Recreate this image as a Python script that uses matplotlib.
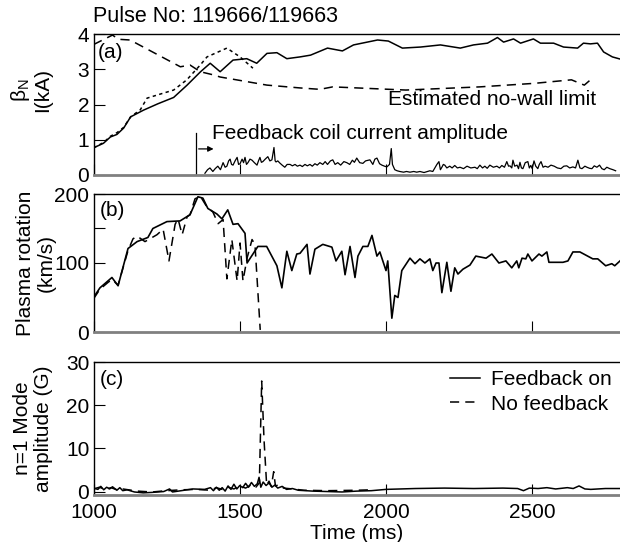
import matplotlib
matplotlib.use("Agg")
import matplotlib.pyplot as plt

plt.rcParams['font.family'] = ['Liberation Sans', 'DejaVu Sans']
plt.rcParams['mathtext.fontset'] = 'custom'
plt.rcParams['mathtext.rm'] = 'Liberation Sans'
plt.rcParams['font.size'] = 15

# (a) beta_N with feedback, beta_N without feedback, no-wall limit, coil current
beta_on_t = [1000, 1034, 1058, 1080, 1103, 1127, 1171, 1220, 1274, 1320, 1366, 1399, 1433, 1477, 1524,
             1558, 1593, 1627, 1661, 1706, 1742, 1800, 1851, 1889, 1971, 2008, 2056, 2118, 2186, 2254,
             2299, 2347, 2381, 2402, 2436, 2460, 2504, 2528, 2573, 2607, 2655, 2675, 2699, 2723, 2744,
             2774, 2800]
beta_on = [0.77, 0.9, 1.08, 1.15, 1.33, 1.65, 1.84, 2.02, 2.2, 2.55, 2.93, 3.17, 2.93, 3.26, 3.3,
           3.17, 3.45, 3.47, 3.3, 3.35, 3.4, 3.6, 3.52, 3.69, 3.83, 3.8, 3.6, 3.63, 3.69, 3.6,
           3.69, 3.74, 3.9, 3.77, 3.86, 3.74, 3.86, 3.74, 3.74, 3.63, 3.6, 3.74, 3.72, 3.74, 3.49,
           3.35, 3.29]

beta_off_t = [1000, 1034, 1058, 1080, 1103, 1127, 1160, 1183, 1230, 1274, 1319, 1365, 1388, 1456, 1501, 1545]
beta_off = [0.77, 0.92, 1.1, 1.2, 1.35, 1.65, 1.85, 2.18, 2.3, 2.41, 2.7, 3.12, 3.35, 3.6, 3.35, 3.03]

nowall_t = [1000, 1065, 1085, 1125, 1297, 1330, 1365, 1410, 1433, 1593, 1706, 1774, 1818, 2068,
            2321, 2507, 2634, 2678, 2706]
nowall = [3.7, 3.97, 3.85, 3.83, 3.07, 3.12, 2.93, 2.84, 2.78, 2.55, 2.47, 2.43, 2.5, 2.41,
          2.5, 2.6, 2.7, 2.55, 2.75]

coil_t = [1381, 1390, 1398, 1408, 1416, 1425, 1434, 1443, 1450, 1456, 1462, 1467, 1472, 1477, 1484,
          1491, 1496, 1501, 1508, 1513, 1518, 1523, 1528, 1535, 1542, 1550, 1559, 1564, 1569, 1574,
          1579, 1587, 1596, 1603, 1610, 1617, 1621, 1624, 1630, 1637, 1645, 1654, 1662, 1672, 1680,
          1689, 1697, 1706, 1714, 1723, 1731, 1740, 1748, 1757, 1765, 1774, 1784, 1792, 1800, 1810,
          1818, 1826, 1835, 1845, 1856, 1866, 1876, 1885, 1892, 1900, 1910, 1921, 1930, 1945, 1955,
          1962, 1969, 1978, 1986, 1995, 2003, 2012, 2018, 2022, 2030, 2038, 2047, 2060, 2070, 2082,
          2095, 2105, 2116, 2130, 2142, 2150, 2160, 2167, 2174, 2181, 2186, 2191, 2196, 2201, 2208,
          2218, 2226, 2235, 2244, 2253, 2265, 2277, 2290, 2304, 2312, 2321, 2330, 2338, 2346, 2355,
          2367, 2379, 2388, 2396, 2405, 2413, 2419, 2424, 2430, 2434, 2440, 2448, 2453, 2458, 2463,
          2468, 2476, 2485, 2490, 2495, 2500, 2506, 2512, 2519, 2524, 2530, 2537, 2544, 2554, 2564,
          2575, 2586, 2598, 2608, 2618, 2628, 2639, 2648, 2656, 2663, 2670, 2680, 2687, 2696, 2704,
          2712, 2721, 2730, 2738, 2746, 2755, 2765, 2776, 2785]
coil = [0.05, 0.15, 0.2, 0.1, 0.18, 0.25, 0.15, 0.35, 0.22, 0.25, 0.4, 0.45, 0.3, 0.28, 0.4,
        0.5, 0.3, 0.32, 0.45, 0.35, 0.5, 0.3, 0.35, 0.45, 0.42, 0.35, 0.28, 0.4, 0.5, 0.36,
        0.38, 0.45, 0.52, 0.4, 0.43, 0.78, 0.4, 0.37, 0.4, 0.34, 0.28, 0.22, 0.3, 0.3, 0.26,
        0.3, 0.25, 0.28, 0.24, 0.3, 0.26, 0.3, 0.25, 0.32, 0.28, 0.35, 0.3, 0.38, 0.3, 0.4,
        0.43, 0.3, 0.35, 0.28, 0.38, 0.35, 0.3, 0.42, 0.36, 0.48, 0.35, 0.33, 0.4, 0.43, 0.3,
        0.45, 0.48, 0.32, 0.28, 0.25, 0.23, 0.3, 0.75, 0.3, 0.15, 0.12, 0.1, 0.08, 0.1, 0.08,
        0.1, 0.08, 0.1, 0.07, 0.1, 0.12, 0.1, 0.2, 0.3, 0.38, 0.15, 0.22, 0.3, 0.28, 0.2,
        0.25, 0.2, 0.27, 0.2, 0.22, 0.18, 0.25, 0.2, 0.22, 0.18, 0.28, 0.2, 0.25, 0.19, 0.28,
        0.22, 0.25, 0.2, 0.27, 0.22, 0.38, 0.25, 0.26, 0.2, 0.42, 0.25, 0.28, 0.18, 0.36, 0.2,
        0.18, 0.35, 0.38, 0.2, 0.27, 0.18, 0.4, 0.25, 0.18, 0.3, 0.38, 0.22, 0.25, 0.22, 0.28,
        0.25, 0.2, 0.18, 0.25, 0.26, 0.2, 0.23, 0.2, 0.42, 0.2, 0.18, 0.25, 0.22, 0.19, 0.18,
        0.26, 0.22, 0.28, 0.18, 0.15, 0.22, 0.18, 0.15, 0.12]

# (b) plasma rotation
rot_on_t = [1000, 1022, 1063, 1084, 1118, 1149, 1186, 1203, 1251, 1296, 1330, 1357, 1374, 1391, 1422,
            1439, 1459, 1477, 1494, 1518, 1525, 1562, 1592, 1627, 1644, 1661, 1678, 1695, 1706, 1730,
            1740, 1757, 1784, 1815, 1829, 1849, 1860, 1877, 1894, 1904, 1921, 1938, 1952, 1969, 1979,
            2000, 2006, 2020, 2030, 2041, 2054, 2082, 2099, 2116, 2133, 2150, 2160, 2171, 2181, 2191,
            2208, 2222, 2235, 2246, 2263, 2287, 2307, 2342, 2362, 2386, 2410, 2430, 2447, 2454, 2465,
            2478, 2485, 2499, 2523, 2533, 2550, 2557, 2605, 2622, 2639, 2663, 2707, 2724, 2751, 2772,
            2782, 2800]
rot_on = [50, 64, 79, 67, 121, 131, 137, 150, 160, 161, 170, 196, 194, 179, 171,
          164, 177, 156, 157, 143, 100, 124, 124, 96, 64, 117, 89, 113, 114, 127,
          84, 120, 127, 123, 103, 117, 83, 124, 79, 110, 124, 124, 140, 110, 116,
          89, 103, 20, 53, 50, 89, 107, 99, 106, 100, 106, 89, 100, 100, 57,
          101, 59, 93, 84, 91, 97, 110, 107, 113, 100, 103, 93, 103, 93, 107,
          106, 113, 103, 113, 110, 116, 101, 101, 103, 116, 116, 106, 106, 96, 99,
          96, 103]

rot_off_t = [1000, 1022, 1050, 1063, 1084, 1118, 1135, 1149, 1176, 1217, 1238, 1258, 1279, 1289, 1303,
             1320, 1330, 1347, 1365, 1388, 1408, 1426, 1443, 1456, 1473, 1491, 1501, 1511, 1525, 1542,
             1552, 1570]
rot_off = [48, 62, 72, 76, 68, 118, 135, 139, 131, 141, 149, 103, 156, 164, 141,
           167, 170, 193, 197, 181, 174, 157, 163, 77, 134, 74, 129, 74, 107, 134,
           127, 3]

# (c) n=1 mode amplitude
mode_on_t = [1000, 1015, 1025, 1035, 1045, 1055, 1065, 1080, 1090, 1100, 1115, 1140, 1170, 1200, 1240,
             1260, 1270, 1300, 1340, 1380, 1400, 1410, 1420, 1430, 1440, 1450, 1460, 1470, 1480, 1490,
             1500, 1510, 1520, 1530, 1540, 1550, 1560, 1566, 1572, 1580, 1590, 1600, 1610, 1620, 1630,
             1645, 1660, 1680, 1700, 1750, 1800, 1850, 1900, 1950, 2000, 2100, 2200, 2300, 2400, 2450,
             2470, 2490, 2520, 2550, 2580, 2620, 2640, 2660, 2680, 2700, 2750, 2800]
mode_on = [0.8, 0.5, 1.2, 0.4, 1.0, 0.6, 1.1, 0.3, 0.9, 0.2, 0.4, -0.1, -0.3, -0.2, 0.0,
           0.6, -0.1, 0.2, 0.6, 0.5, 0.9, 0.2, 1.0, 0.3, 0.9, 0.1, 1.3, 0.5, 1.7, 0.6,
           1.4, 0.9, 1.9, 1.0, 2.1, 1.2, 1.8, 3.3, 1.0, 2.2, 1.4, 2.0, 1.0, 1.5, 0.8,
           1.2, 0.5, 0.7, 0.3, 0.1, 0.0, -0.1, 0.1, 0.2, 0.5, 0.7, 0.8, 0.7, 0.8, 0.7,
           0.2, 0.8, 0.7, 0.9, 0.6, 0.9, 0.7, 1.3, 0.6, 0.5, 0.7, 0.7]

mode_off_t = [1000, 1020, 1040, 1060, 1080, 1100, 1150, 1200, 1250, 1300, 1350, 1400, 1420, 1440, 1460,
              1480, 1500, 1520, 1540, 1555, 1567, 1575, 1583, 1592, 1600, 1608, 1616, 1622, 1635, 1650,
              1680, 1720, 1800, 1900, 1950]
mode_off = [0.6, 1.0, 0.5, 0.9, 0.4, 0.6, 0.1, -0.1, 0.2, 0.4, 0.5, 0.3, 0.9, 0.5, 1.0,
            0.6, 1.3, 0.8, 1.6, 1.0, 2.0, 25.6, 12.0, 1.5, 2.4, 1.2, 4.6, 1.3, 1.6, 0.8,
            0.6, 0.3, 0.2, 0.3, 0.4]

W, H = 620, 542
fig = plt.figure(figsize=(W / 100, H / 100), dpi=100)

def px_axes(top, bottom, left=93.5, right=620):
    return fig.add_axes([left / W, 1 - bottom / H, (right - left) / W, (bottom - top) / H])

ax1 = px_axes(34, 175)
ax2 = px_axes(194, 332)
ax3 = px_axes(362, 495)

dash = (6, 4)
for ax in (ax1, ax2, ax3):
    ax.set_xlim(1000, 2800)
    ax.spines['right'].set_visible(False)
    ax.spines['top'].set_linewidth(1.0)
    ax.spines['left'].set_linewidth(1.0)
    ax.spines['bottom'].set_linewidth(2.0)
    ax.spines['bottom'].set_color('#808080')
    ax.tick_params(axis='y', direction='in', length=8, width=0.8, pad=3)
    ax.tick_params(axis='x', direction='in', length=8, width=0.8, pad=6)
    ax.set_xticks([1000, 1500, 2000, 2500])

# (a)
ax1.plot(beta_on_t, beta_on, color='black', lw=1.1)
ax1.plot(beta_off_t, beta_off, color='black', lw=1.1, dashes=(2.2, 2.2))
ax1.plot(nowall_t, nowall, color='black', lw=1.1, dashes=dash)
ax1.plot(coil_t, coil, color='black', lw=0.9)
ax1.set_ylim(0, 4)
ax1.set_yticks([0, 1, 2, 3, 4])
ax1.set_xticklabels([])
ax1.plot([1350, 1350], [0, 1.2], color='black', lw=0.9)
ax1.annotate('', xy=(1420, 0.74), xytext=(1350, 0.74),
             arrowprops=dict(arrowstyle='-|>', color='black', lw=0.9, mutation_scale=8))
ax1.text(1405, 1.19, 'Feedback coil current amplitude', va='center', ha='left')
ax1.text(2006, 2.13, 'Estimated no-wall limit', va='center', ha='left')
ax1.text(0.009, 0.87, '(a)', transform=ax1.transAxes, va='center', ha='left')
ax1.set_ylabel('β$_\\mathrm{N}$\nI(kA)', linespacing=1.1)
ax1.yaxis.set_label_coords(-0.078, 0.6)

# (b)
ax2.plot(rot_on_t, rot_on, color='black', lw=1.2)
ax2.plot(rot_off_t, rot_off, color='black', lw=1.1, dashes=dash)
ax2.set_ylim(0, 200)
ax2.set_yticks([0, 100, 150, 200])
ax2.set_yticklabels(['0', '100', '', '200'])
ax2.set_xticklabels([])
ax2.text(0.012, 0.877, '(b)', transform=ax2.transAxes, va='center', ha='left')
ax2.set_ylabel('Plasma rotation\n(km/s)', linespacing=1.15)
ax2.yaxis.set_label_coords(-0.071, 0.5)

# (c)
ax3.plot(mode_on_t, mode_on, color='black', lw=1.1, label='Feedback on')
ax3.plot(mode_off_t, mode_off, color='black', lw=1.1, dashes=dash, label='No feedback')
ax3.set_ylim(-0.8, 30)
ax3.set_yticks([0, 10, 20, 30])
ax3.text(0.012, 0.865, '(c)', transform=ax3.transAxes, va='center', ha='left')
ax3.set_ylabel('n=1 Mode\namplitude (G)', linespacing=1.15)
ax3.yaxis.set_label_coords(-0.076, 0.5)
ax3.set_xlabel('Time (ms)', labelpad=1)
ax3.legend(loc='upper right', frameon=False, handlelength=1.45, handletextpad=0.5,
           labelspacing=0.25, borderaxespad=0.0, bbox_to_anchor=(1.0, 1.0))

fig.text(93 / W, 1 - 16 / H, 'Pulse No: 119666/119663', va='center', ha='left', fontsize=15.5)

fig.savefig('out.png', dpi=100)
